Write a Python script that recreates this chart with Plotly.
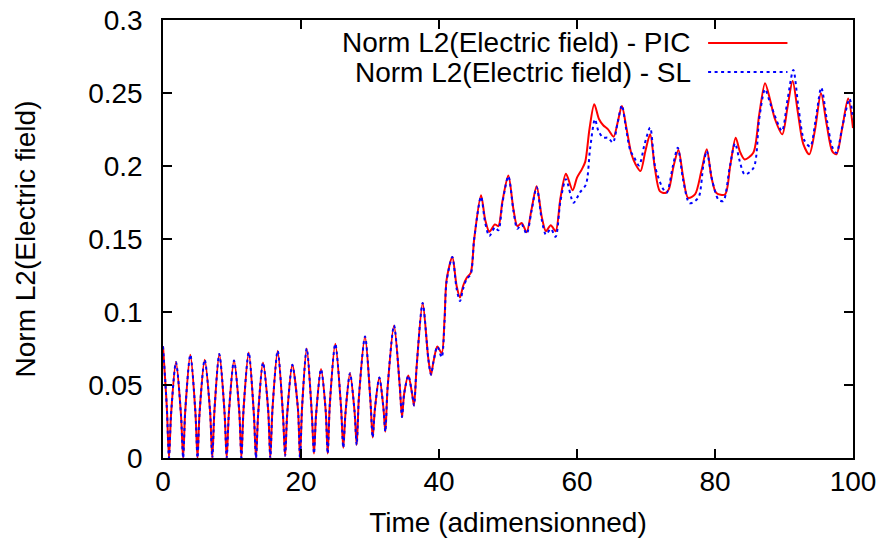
import plotly.graph_objects as go

# Shared early segment (both series coincide up to t~40)
early_t = [0, 0.55, 0.87, 1.17, 1.88, 2.6, 2.92, 3.22, 3.96, 4.7, 5.0, 5.3, 6.04, 6.82, 7.14, 7.45,
           8.16, 8.92, 9.23, 9.55, 10.29, 11.05, 11.36, 11.67, 12.42, 13.17, 13.48, 13.79, 14.49,
           15.24, 15.55, 15.86, 16.62, 17.38, 17.7, 18.0, 18.74, 19.55, 19.86, 20.16, 20.83, 21.57,
           21.88, 22.19, 22.9, 23.57, 23.87, 24.18, 24.97, 25.8, 26.13, 26.45, 27.1, 27.76, 28.07,
           28.4, 29.28, 30.05, 30.39, 30.7, 31.35, 31.95, 32.22, 32.55, 33.48, 34.3, 34.64, 34.95,
           35.56, 36.1, 36.38, 36.75, 37.63, 38.45, 38.84, 39.2, 39.76]
early_v = [0.0765, 0.035, 0.0, 0.030, 0.0657, 0.030, 0.0, 0.032, 0.0707, 0.031, 0.0, 0.031, 0.0673,
           0.032, 0.0, 0.032, 0.0712, 0.031, 0.0, 0.031, 0.0668, 0.032, 0.0, 0.033, 0.0723, 0.030,
           0.0, 0.030, 0.0654, 0.033, 0.0, 0.033, 0.0734, 0.030, 0.0015, 0.030, 0.0638, 0.034, 0.0,
           0.035, 0.0750, 0.030, 0.003, 0.030, 0.0609, 0.033, 0.003, 0.037, 0.0782, 0.035, 0.007,
           0.031, 0.0581, 0.032, 0.009, 0.042, 0.0833, 0.040, 0.014, 0.033, 0.0551, 0.034, 0.018,
           0.048, 0.0908, 0.050, 0.028, 0.044, 0.0565, 0.044, 0.036, 0.062, 0.1062, 0.068, 0.057,
           0.066, 0.0764]

pic_late_t = [40.39, 40.8, 41.1, 41.93, 42.55, 43.04, 43.5, 44.0, 44.6, 45.1, 46.09, 46.7, 47.3,
              48.1, 48.6, 49.2, 50.05, 50.8, 51.35, 51.98, 52.7, 53.4, 54.15, 54.9, 55.5, 56.2,
              56.9, 57.6, 58.4, 59.37, 60.0, 60.7, 61.2, 61.8, 62.5, 63.2, 63.8, 64.5, 65.3, 65.9,
              66.5, 67.2, 67.9, 68.5, 69.2, 69.9, 70.6, 71.3, 72.0, 72.8, 73.3, 74.0, 74.7, 75.4,
              76.1, 77.1, 78.0, 78.8, 79.5, 80.2, 81.45, 82.2, 83.0, 83.6, 84.3, 85.55, 86.4, 87.25,
              88.0, 88.7, 89.75, 90.5, 91.25, 92.0, 92.8, 93.67, 94.5, 95.36, 96.2, 97.0, 97.6,
              98.4, 99.3, 100.0]
pic_late_v = [0.0718, 0.095, 0.122, 0.1377, 0.118, 0.110, 0.118, 0.1233, 0.1268, 0.150, 0.180,
              0.163, 0.155, 0.160, 0.1588, 0.176, 0.1935, 0.170, 0.1588, 0.161, 0.1547, 0.170,
              0.1862, 0.165, 0.1553, 0.1595, 0.1553, 0.178, 0.1947, 0.1834, 0.192, 0.1977, 0.203,
              0.225, 0.2423, 0.232, 0.2279, 0.2251, 0.2201, 0.230, 0.2411, 0.225, 0.208, 0.201,
              0.1965, 0.210, 0.2217, 0.198, 0.1828, 0.1815, 0.184, 0.200, 0.211, 0.192, 0.1782,
              0.1805, 0.196, 0.2114, 0.192, 0.1815, 0.1805, 0.200, 0.2194, 0.210, 0.2045, 0.2091,
              0.235, 0.2567, 0.245, 0.232, 0.2217, 0.240, 0.2583, 0.237, 0.215, 0.208, 0.225,
              0.2498, 0.228, 0.210, 0.208, 0.225, 0.2462, 0.226]

sl_late_t = [40.39, 40.8, 41.1, 41.93, 42.55, 43.04, 43.5, 44.0, 44.6, 45.1, 46.09, 46.7, 47.3,
             48.1, 48.6, 49.2, 50.05, 50.8, 51.35, 51.98, 52.7, 53.4, 54.15, 54.9, 55.5, 56.2,
             56.9, 57.6, 58.4, 59.5, 60.4, 61.3, 61.9, 62.6, 63.1, 63.8, 64.5, 65.2, 65.9, 66.5,
             67.1, 67.7, 68.3, 69.0, 69.8, 70.6, 71.3, 72.4, 73.0, 73.9, 74.6, 75.4, 76.3, 77.1,
             77.7, 78.3, 78.8, 79.6, 80.5, 81.2, 82.1, 82.9, 83.6, 84.3, 85.6, 86.4, 87.25, 88.0,
             88.5, 89.7, 90.5, 91.35, 92.1, 92.9, 93.8, 94.6, 95.4, 96.2, 97.0, 97.6, 98.5, 99.5,
             100.0]
sl_late_v = [0.069, 0.093, 0.121, 0.1377, 0.116, 0.1075, 0.116, 0.1225, 0.126, 0.150, 0.179,
             0.161, 0.152, 0.158, 0.156, 0.175, 0.193, 0.169, 0.157, 0.160, 0.1535, 0.169,
             0.1855, 0.163, 0.153, 0.157, 0.1515, 0.176, 0.191, 0.1748, 0.1817, 0.1874, 0.212,
             0.232, 0.224, 0.2194, 0.2194, 0.216, 0.230, 0.2416, 0.226, 0.211, 0.2057, 0.2004,
             0.215, 0.2263, 0.200, 0.185, 0.1817, 0.200, 0.2125, 0.190, 0.1745, 0.176, 0.1794,
             0.200, 0.2102, 0.190, 0.177, 0.176, 0.198, 0.2155, 0.203, 0.1942, 0.1988, 0.232,
             0.2526, 0.243, 0.2366, 0.224, 0.245, 0.2658, 0.240, 0.218, 0.2133, 0.232, 0.2537,
             0.232, 0.213, 0.209, 0.228, 0.246, 0.232]

series_names = ["Norm L2(Electric field) - PIC", "Norm L2(Electric field) - SL"]
x_ticks = [0, 20, 40, 60, 80, 100]
y_ticks = [0, 0.05, 0.1, 0.15, 0.2, 0.25, 0.3]
y_tick_labels = ["0", "0.05", "0.1", "0.15", "0.2", "0.25", "0.3"]

FONT = "Liberation Sans"
FS = 28
RED = "#ff0000"
BLUE = "#0000ff"
BLUE_DASH = "3px,3.5px"

fig = go.Figure()
fig.add_trace(go.Scatter(x=early_t + pic_late_t, y=early_v + pic_late_v, mode="lines",
                         name=series_names[0], line=dict(color=RED, width=2, shape="spline", smoothing=0.8)))
fig.add_trace(go.Scatter(x=early_t + sl_late_t, y=early_v + sl_late_v, mode="lines",
                         name=series_names[1],
                         line=dict(color=BLUE, width=2, dash=BLUE_DASH, shape="spline", smoothing=0.8)))

axis_common = dict(showgrid=False, zeroline=False, showline=True, linecolor="black", linewidth=1.5,
                   mirror="ticks", ticks="inside", ticklen=9, tickwidth=1.5, tickcolor="black",
                   automargin=False, ticklabeloverflow="allow",
                   tickfont=dict(family=FONT, size=FS, color="black"))
fig.update_xaxes(range=[0, 100], tickvals=x_ticks, ticktext=[str(v) for v in x_ticks],
                 ticklabelstandoff=-2,
                 title=dict(text="Time (adimensionned)", font=dict(family=FONT, size=FS, color="black"),
                            standoff=16), **axis_common)
fig.update_yaxes(range=[0, 0.3], tickvals=y_ticks, ticktext=y_tick_labels, ticklabelstandoff=13,
                 title=dict(text="Norm L2(Electric field)", font=dict(family=FONT, size=FS, color="black"),
                            standoff=44), **axis_common)

# Legend drawn gnuplot-style: text on left, sample on right
legend_rows = [(0.9475, RED, None), (0.881, BLUE, BLUE_DASH)]
for (yp, col, dash), name in zip(legend_rows, series_names):
    fig.add_annotation(x=0.768, y=yp, xref="paper", yref="paper", text=name, showarrow=False,
                       xanchor="right", yanchor="middle", font=dict(family=FONT, size=FS, color="black"))
    fig.add_shape(type="line", xref="paper", yref="paper", x0=0.790, x1=0.905, y0=yp, y1=yp,
                  line=dict(color=col, width=2, dash=dash if dash else "solid"))

# plot box at x 163-853, y 20-458 of the 883x546 page (body margin removed below)
fig.update_layout(width=883, height=546, margin=dict(l=163, r=30, t=20, b=88, autoexpand=False),
                  paper_bgcolor="white", plot_bgcolor="white", showlegend=False,
                  font=dict(family=FONT, size=FS, color="black"))

fig.write_html("out.html", config={"displayModeBar": False},
               post_script="document.body.style.margin='0';")
